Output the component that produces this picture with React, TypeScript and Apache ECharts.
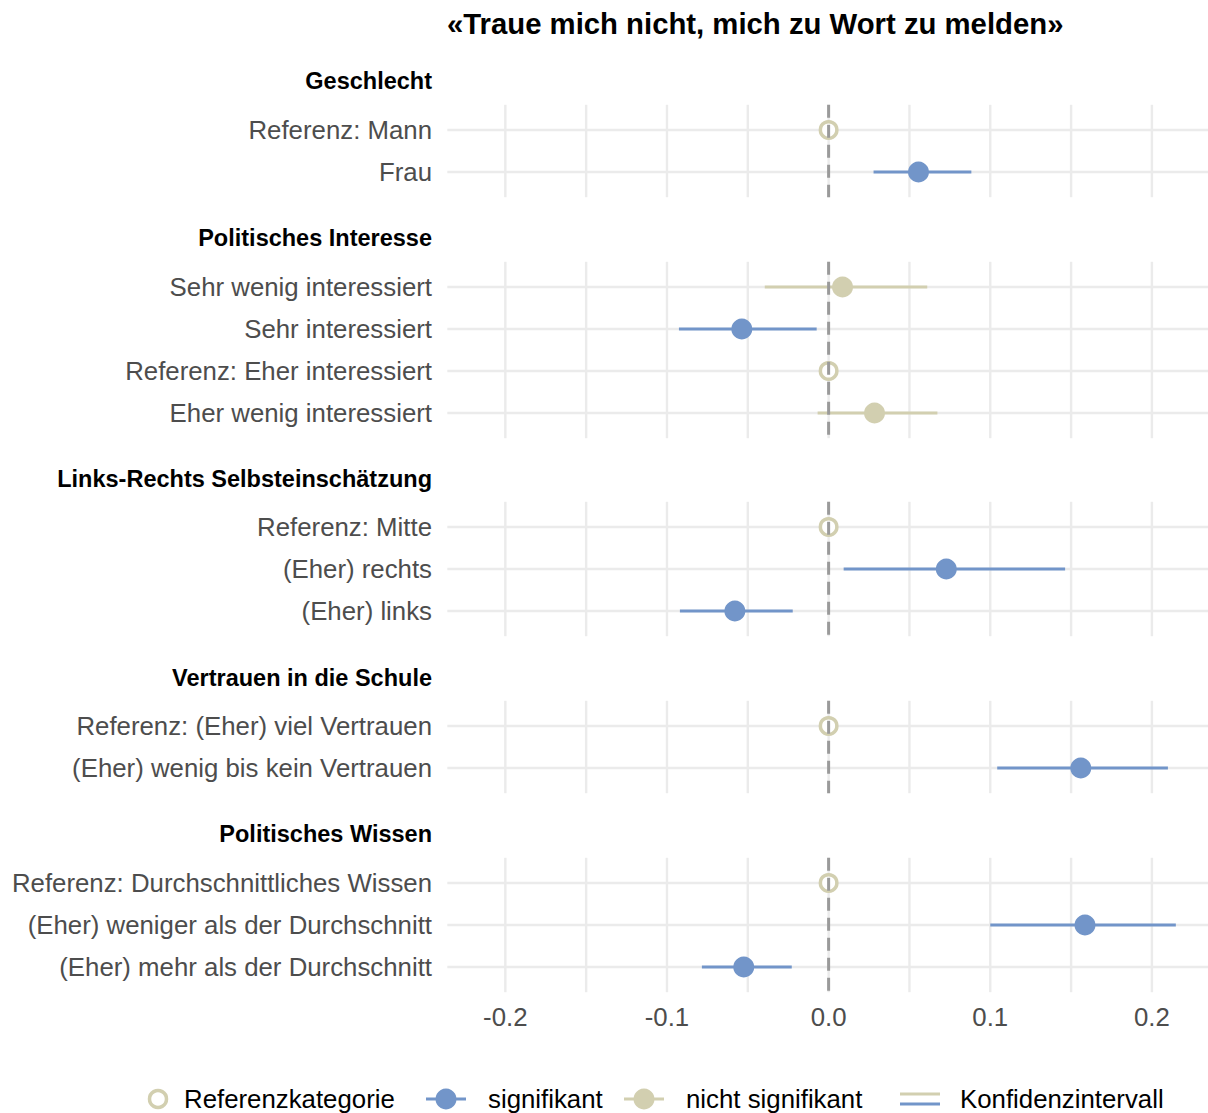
import React, { useEffect, useRef } from "react";
import * as echarts from "echarts";

// ---------- data ----------
const chartTitle = "«Traue mich nicht, mich zu Wort zu melden»";
const panelTitles = [
  "Geschlecht",
  "Politisches Interesse",
  "Links-Rechts Selbsteinschätzung",
  "Vertrauen in die Schule",
  "Politisches Wissen",
];
const rowPanel = [0, 0, 1, 1, 1, 1, 2, 2, 2, 3, 3, 4, 4, 4];
const rowLabels = [
  "Referenz: Mann",
  "Frau",
  "Sehr wenig interessiert",
  "Sehr interessiert",
  "Referenz: Eher interessiert",
  "Eher wenig interessiert",
  "Referenz: Mitte",
  "(Eher) rechts",
  "(Eher) links",
  "Referenz: (Eher) viel Vertrauen",
  "(Eher) wenig bis kein Vertrauen",
  "Referenz: Durchschnittliches Wissen",
  "(Eher) weniger als der Durchschnitt",
  "(Eher) mehr als der Durchschnitt",
];
const estimates = [0, 0.0556, 0.0086, -0.0537, 0, 0.0284, 0, 0.0728, -0.058, 0, 0.156, 0, 0.1586, -0.0525];
const ciLow = [null, 0.0278, -0.0395, -0.0926, null, -0.0068, null, 0.0093, -0.092, null, 0.1043, null, 0.1, -0.0784];
const ciHigh = [null, 0.0883, 0.061, -0.0074, null, 0.0673, null, 0.1463, -0.0222, null, 0.2099, null, 0.2148, -0.0228];
const status = ["ref", "sig", "ns", "sig", "ref", "ns", "ref", "sig", "sig", "ref", "sig", "ref", "sig", "sig"];
const xTicks = [-0.2, -0.1, 0, 0.1, 0.2];
const xGrid = [-0.2, -0.15, -0.1, -0.05, 0, 0.05, 0.1, 0.15, 0.2];
const legendLabels = ["Referenzkategorie", "signifikant", "nicht signifikant", "Konfidenzintervall"];

// ---------- style / layout ----------
const X_MIN = -0.2359;
const X_MAX = 0.2347;
const PAD = 0.6;
const ROW = 42;
const gridTops = [104.8, 261.8, 501.8, 700.8, 857.8];
const headerYs = [81, 238, 479, 678, 834];
const BLUE = "#7295C9";
const BEIGE = "#D2CFB0";
const GRIDC = "#EBEBEB";
const TEXTC = "#4D4D4D";
const FONT = "Liberation Sans, Arial, Helvetica, sans-serif";
const AXIS_FS = 25.8;

function buildOption() {
  const grids: any[] = [];
  const xAxes: any[] = [];
  const yAxes: any[] = [];
  const series: any[] = [];
  const graphics: any[] = [];
  const nPanels = panelTitles.length;

  for (let p = 0; p < nPanels; p++) {
    const idx = rowPanel.map((rp, i) => (rp === p ? i : -1)).filter((i) => i >= 0);
    const n = idx.length;
    const labels = idx.map((i) => rowLabels[i]);
    grids.push({ left: 447.3, right: 0, top: gridTops[p], height: (n - 1 + 2 * PAD) * ROW, containLabel: false });
    const last = p === nPanels - 1;
    xAxes.push({
      gridIndex: p,
      type: "value",
      min: X_MIN,
      max: X_MAX,
      axisLine: { show: false },
      axisTick: { show: false },
      splitLine: { show: false },
      axisLabel: last
        ? {
            show: true,
            customValues: xTicks,
            formatter: (v: number) => v.toFixed(1),
            color: TEXTC,
            fontSize: AXIS_FS,
            fontFamily: FONT,
            margin: 12,
          }
        : { show: false },
    });
    yAxes.push({
      gridIndex: p,
      type: "value",
      min: -PAD,
      max: n - 1 + PAD,
      inverse: true,
      axisLine: { show: false },
      axisTick: { show: false },
      splitLine: { show: false },
      axisLabel: {
        show: true,
        customValues: labels.map((_, k) => k),
        formatter: (v: number) => labels[Math.round(v)] ?? "",
        color: TEXTC,
        fontSize: AXIS_FS,
        fontFamily: FONT,
        margin: 15.3,
      },
    });

    // grid lines
    const gridData: any[] = [];
    xGrid.forEach((x) => gridData.push([x, 0, 0]));
    labels.forEach((_, k) => gridData.push([0, k, 1]));
    series.push({
      type: "custom",
      xAxisIndex: p,
      yAxisIndex: p,
      silent: true,
      z: 1,
      encode: { x: 0, y: 1 },
      data: gridData,
      renderItem: (params: any, api: any) => {
        const cs = params.coordSys;
        const kind = api.value(2);
        if (kind === 0) {
          const x = api.coord([api.value(0), 0])[0];
          return {
            type: "line",
            shape: { x1: x, y1: cs.y, x2: x, y2: cs.y + cs.height },
            style: { stroke: GRIDC, lineWidth: 2.4 },
          };
        }
        const y = api.coord([0, api.value(1)])[1];
        return {
          type: "line",
          shape: { x1: cs.x, y1: y, x2: cs.x + cs.width, y2: y },
          style: { stroke: GRIDC, lineWidth: 2.4 },
        };
      },
    });

    // confidence intervals
    const ciData: any[] = [];
    idx.forEach((i, k) => {
      if (status[i] !== "ref") ciData.push([ciLow[i], ciHigh[i], k, status[i] === "sig" ? 1 : 0]);
    });
    series.push({
      type: "custom",
      xAxisIndex: p,
      yAxisIndex: p,
      silent: true,
      z: 2,
      encode: { x: [0, 1], y: 2 },
      data: ciData,
      renderItem: (params: any, api: any) => {
        const a = api.coord([api.value(0), api.value(2)]);
        const b = api.coord([api.value(1), api.value(2)]);
        return {
          type: "line",
          shape: { x1: a[0], y1: a[1], x2: b[0], y2: b[1] },
          style: { stroke: api.value(3) === 1 ? BLUE : BEIGE, lineWidth: 3 },
        };
      },
    });

    const pts = (st: string) =>
      idx.map((i, k) => (status[i] === st ? [estimates[i], k] : null)).filter((d) => d !== null);

    series.push({
      type: "scatter",
      xAxisIndex: p,
      yAxisIndex: p,
      silent: true,
      z: 3,
      symbol: "circle",
      symbolSize: 16.5,
      itemStyle: { color: "#ffffff", borderColor: BEIGE, borderWidth: 3.5, opacity: 1 },
      data: pts("ref"),
    });
    series.push({
      type: "scatter",
      xAxisIndex: p,
      yAxisIndex: p,
      silent: true,
      z: 3,
      symbol: "circle",
      symbolSize: 21,
      itemStyle: { color: BLUE, opacity: 1 },
      data: pts("sig"),
    });
    series.push({
      type: "scatter",
      xAxisIndex: p,
      yAxisIndex: p,
      silent: true,
      z: 3,
      symbol: "circle",
      symbolSize: 21,
      itemStyle: { color: BEIGE, opacity: 1 },
      data: pts("ns"),
    });

    // zero line
    series.push({
      type: "custom",
      xAxisIndex: p,
      yAxisIndex: p,
      silent: true,
      z: 4,
      encode: { x: 0, y: 1 },
      data: [[0, 0]],
      renderItem: (params: any, api: any) => {
        const cs = params.coordSys;
        const x = api.coord([0, 0])[0];
        return {
          type: "line",
          shape: { x1: x, y1: cs.y, x2: x, y2: cs.y + cs.height },
          style: { stroke: "#9A9A9A", lineWidth: 3, lineDash: [13, 7] },
        };
      },
    });

    graphics.push({
      type: "text",
      x: 432,
      y: headerYs[p],
      style: {
        text: panelTitles[p],
        fill: "#000",
        font: `bold 23.5px ${FONT}`,
        textAlign: "right",
        textVerticalAlign: "middle",
      },
    });
  }

  // title
  graphics.push({
    type: "text",
    x: 447,
    y: 23,
    style: {
      text: chartTitle,
      fill: "#000",
      font: `bold 29.3px ${FONT}`,
      textAlign: "left",
      textVerticalAlign: "middle",
    },
  });

  // legend
  const LY = 1099;
  const legendFont = `${AXIS_FS}px ${FONT}`;
  graphics.push({
    type: "circle",
    shape: { cx: 158, cy: LY, r: 8.5 },
    style: { fill: "#fff", stroke: BEIGE, lineWidth: 3.5 },
  });
  graphics.push({
    type: "text", x: 184, y: LY,
    style: { text: legendLabels[0], fill: "#000", font: legendFont, textVerticalAlign: "middle" },
  });
  graphics.push({ type: "line", shape: { x1: 426, y1: LY, x2: 466, y2: LY }, style: { stroke: BLUE, lineWidth: 3 } });
  graphics.push({ type: "circle", shape: { cx: 446, cy: LY, r: 10.5 }, style: { fill: BLUE } });
  graphics.push({
    type: "text", x: 488, y: LY,
    style: { text: legendLabels[1], fill: "#000", font: legendFont, textVerticalAlign: "middle" },
  });
  graphics.push({ type: "line", shape: { x1: 624, y1: LY, x2: 664, y2: LY }, style: { stroke: BEIGE, lineWidth: 3 } });
  graphics.push({ type: "circle", shape: { cx: 644, cy: LY, r: 10.5 }, style: { fill: BEIGE } });
  graphics.push({
    type: "text", x: 686, y: LY,
    style: { text: legendLabels[2], fill: "#000", font: legendFont, textVerticalAlign: "middle" },
  });
  graphics.push({ type: "line", shape: { x1: 900, y1: LY - 5, x2: 940, y2: LY - 5 }, style: { stroke: BEIGE, lineWidth: 3 } });
  graphics.push({ type: "line", shape: { x1: 900, y1: LY + 5, x2: 940, y2: LY + 5 }, style: { stroke: BLUE, lineWidth: 3 } });
  graphics.push({
    type: "text", x: 960, y: LY,
    style: { text: legendLabels[3], fill: "#000", font: legendFont, textVerticalAlign: "middle" },
  });

  return {
    animation: false,
    backgroundColor: "#ffffff",
    textStyle: { fontFamily: FONT },
    grid: grids,
    xAxis: xAxes,
    yAxis: yAxes,
    series,
    graphic: graphics,
  };
}

export default function App() {
  const ref = useRef<HTMLDivElement>(null);
  useEffect(() => {
    if (!ref.current) return;
    const chart = echarts.init(ref.current, null, { renderer: "svg" });
    chart.setOption(buildOption());
    return () => chart.dispose();
  }, []);
  return (
    <div
      ref={ref}
      style={{ position: "absolute", left: 0, top: 0, width: 1208, height: 1113, background: "#fff" }}
    />
  );
}
